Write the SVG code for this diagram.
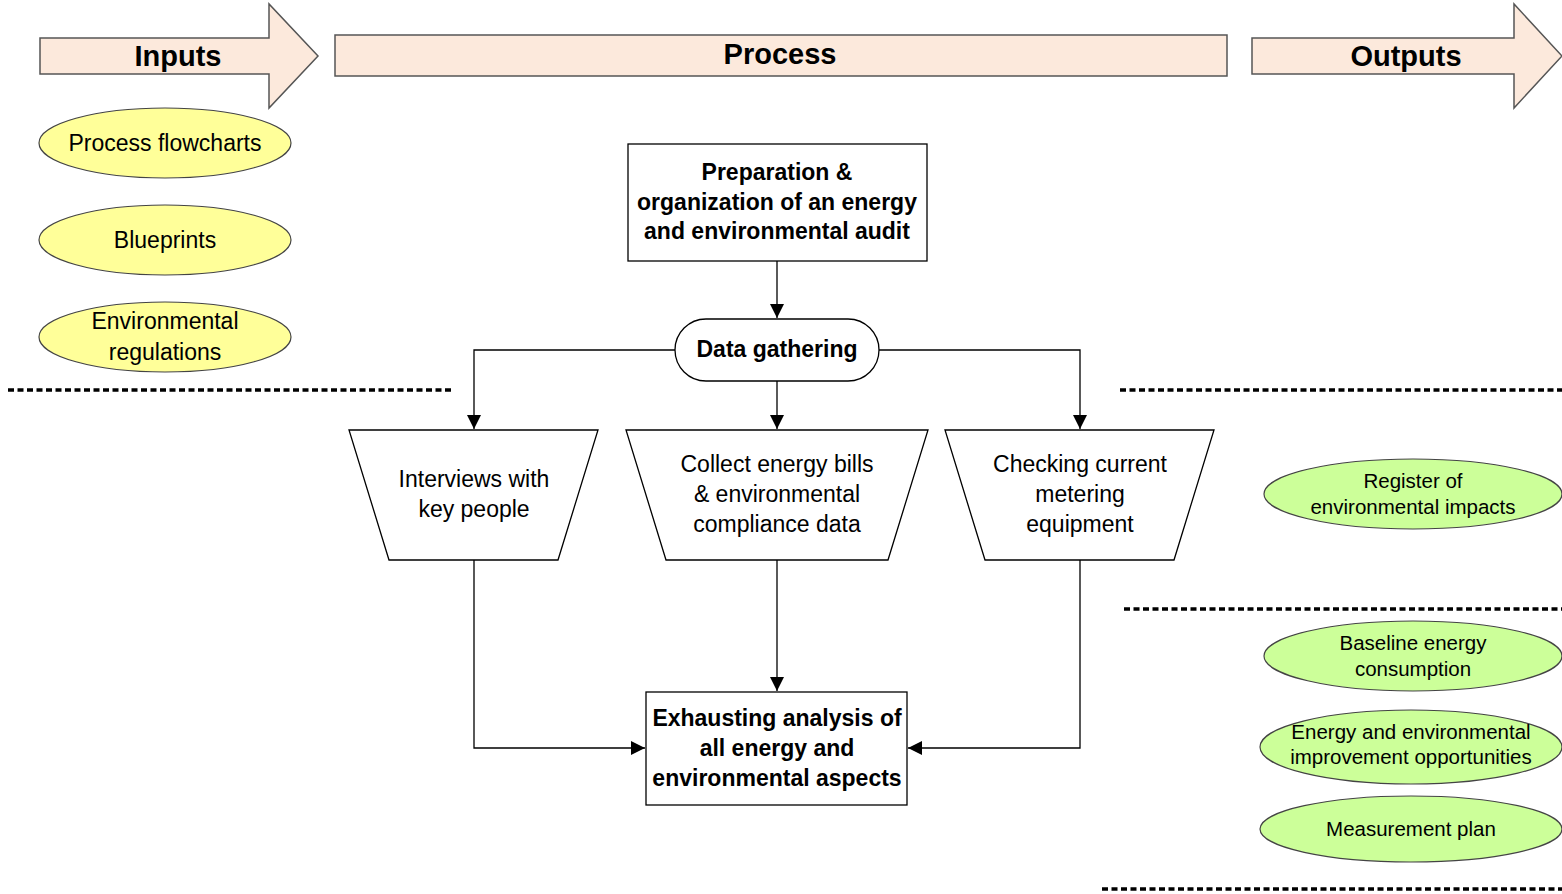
<svg xmlns="http://www.w3.org/2000/svg" width="1562" height="894" viewBox="0 0 1562 894">
<defs>
<marker id="ah" viewBox="0 0 10 10" refX="10" refY="5" markerWidth="14" markerHeight="14" markerUnits="userSpaceOnUse" orient="auto">
<path d="M0,0 L10,5 L0,10 z" fill="#000"/>
</marker>
<style>
.band{fill:#fce9dc;stroke:#555;stroke-width:1.5}
.in{fill:#ffff99;stroke:#444;stroke-width:1.2}
.out{fill:#ccff99;stroke:#444;stroke-width:1.2}
.box{fill:#fff;stroke:#000;stroke-width:1.3}
.conn{fill:none;stroke:#000;stroke-width:1.3}
.dot{stroke:#000;stroke-width:3.5;stroke-dasharray:6 3.5}
.t{font-family:"Liberation Sans",Arial,sans-serif;fill:#000;text-anchor:middle}
.h{font-size:29px;font-weight:bold}
.b{font-size:23px;font-weight:bold}
.r{font-size:23px}
.s{font-size:20.5px}
</style>
</defs>
<g id="header-inputs">
<path class="band" d="M40,38 L269,38 L269,4 L318,56 L269,108 L269,74 L40,74 Z"/>
<text class="t h" x="178" y="66">Inputs</text>
</g>
<g id="header-process">
<rect class="band" x="335" y="35" width="892" height="41"/>
<text class="t h" x="780" y="64">Process</text>
</g>
<g id="header-outputs">
<path class="band" d="M1252,38 L1514,38 L1514,4 L1562,56 L1514,108 L1514,74 L1252,74 Z"/>
<text class="t h" x="1406" y="66">Outputs</text>
</g>
<g id="separators">
<line class="dot" x1="8" y1="390" x2="452" y2="390"/>
<line class="dot" x1="1120" y1="390" x2="1562" y2="390"/>
<line class="dot" x1="1124" y1="609" x2="1562" y2="609"/>
<line class="dot" x1="1102" y1="889" x2="1562" y2="889"/>
</g>
<g id="in-flowcharts">
<ellipse class="in" cx="165" cy="143" rx="126" ry="35"/>
<text class="t r" x="165" y="151">Process flowcharts</text>
</g>
<g id="in-blueprints">
<ellipse class="in" cx="165" cy="240" rx="126" ry="35"/>
<text class="t r" x="165" y="248">Blueprints</text>
</g>
<g id="in-regulations">
<ellipse class="in" cx="165" cy="337" rx="126" ry="35"/>
<text class="t r" x="165" y="329">Environmental</text>
<text class="t r" x="165" y="360">regulations</text>
</g>
<g id="prep">
<rect class="box" x="628" y="144" width="299" height="117"/>
<text class="t b" x="777" y="180">Preparation &amp;</text>
<text class="t b" x="777" y="210">organization of an energy</text>
<text class="t b" x="777" y="239">and environmental audit</text>
</g>
<g id="gather">
<rect class="box" x="675" y="319" width="204" height="62" rx="31" ry="31"/>
<text class="t b" x="777" y="357">Data gathering</text>
</g>
<g id="interviews">
<path class="box" d="M349,430 L598,430 L558,560 L389,560 Z"/>
<text class="t r" x="474" y="487">Interviews with</text>
<text class="t r" x="474" y="517">key people</text>
</g>
<g id="bills">
<path class="box" d="M626,430 L928,430 L888,560 L666,560 Z"/>
<text class="t r" x="777" y="472">Collect energy bills</text>
<text class="t r" x="777" y="502">&amp; environmental</text>
<text class="t r" x="777" y="532">compliance data</text>
</g>
<g id="metering">
<path class="box" d="M945,430 L1214,430 L1174,560 L985,560 Z"/>
<text class="t r" x="1080" y="472">Checking current</text>
<text class="t r" x="1080" y="502">metering</text>
<text class="t r" x="1080" y="532">equipment</text>
</g>
<g id="analysis">
<rect class="box" x="646" y="692" width="261" height="113"/>
<text class="t b" x="777" y="726">Exhausting analysis of</text>
<text class="t b" x="777" y="756">all energy and</text>
<text class="t b" x="777" y="786">environmental aspects</text>
</g>
<g id="out-register">
<ellipse class="out" cx="1413" cy="494" rx="149" ry="35"/>
<text class="t s" x="1413" y="488">Register of</text>
<text class="t s" x="1413" y="514">environmental impacts</text>
</g>
<g id="out-baseline">
<ellipse class="out" cx="1413" cy="656" rx="149" ry="35"/>
<text class="t s" x="1413" y="650">Baseline energy</text>
<text class="t s" x="1413" y="676">consumption</text>
</g>
<g id="out-opportunities">
<ellipse class="out" cx="1411" cy="747" rx="151" ry="37"/>
<text class="t s" x="1411" y="739">Energy and environmental</text>
<text class="t s" x="1411" y="764">improvement opportunities</text>
</g>
<g id="out-measurement">
<ellipse class="out" cx="1411" cy="829" rx="151" ry="33"/>
<text class="t s" x="1411" y="836">Measurement plan</text>
</g>
<g id="connectors">
<line class="conn" x1="777" y1="261" x2="777" y2="318" marker-end="url(#ah)"/>
<polyline class="conn" points="675,350 474,350 474,429" marker-end="url(#ah)"/>
<line class="conn" x1="777" y1="381" x2="777" y2="429" marker-end="url(#ah)"/>
<polyline class="conn" points="879,350 1080,350 1080,429" marker-end="url(#ah)"/>
<polyline class="conn" points="474,560 474,748 645,748" marker-end="url(#ah)"/>
<line class="conn" x1="777" y1="560" x2="777" y2="691" marker-end="url(#ah)"/>
<polyline class="conn" points="1080,560 1080,748 908,748" marker-end="url(#ah)"/>
</g>
</svg>
